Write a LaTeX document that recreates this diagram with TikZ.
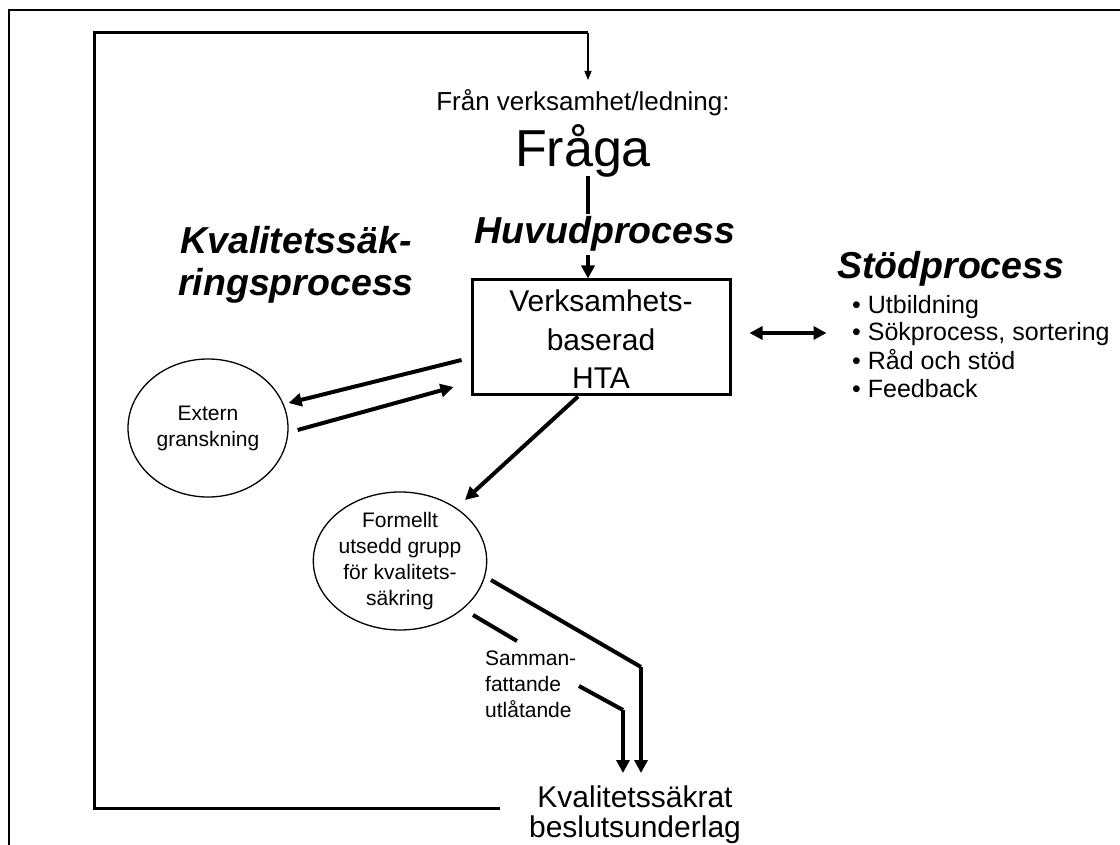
\documentclass[tikz,border=0pt]{standalone}
\usepackage{fontspec}
\setmainfont{Liberation Sans}
\usetikzlibrary{arrows.meta,shapes.geometric}
\begin{document}
\begin{tikzpicture}[x=1pt,y=-1pt,
  frameline/.style={line width=2pt},
  loopline/.style={line width=3pt},
  thinarr/.style={line width=1.4pt,-{Triangle[length=9pt,width=7pt]}},
  conn/.style={line width=4pt},
  arr/.style={line width=4pt,-{Triangle[length=13pt,width=13pt]}},
  dblarr/.style={line width=4pt,{Triangle[length=13pt,width=13pt]}-{Triangle[length=13pt,width=13pt]}},
  oval/.style={draw,ellipse,line width=1.3pt,inner sep=0pt,align=center,font=\fontsize{21}{26}\selectfont},
  head/.style={font=\fontsize{37.5}{42}\selectfont\bfseries\itshape,align=center,inner sep=0pt},
  txt/.style={inner sep=0pt},
  bul/.style={inner sep=0pt,anchor=base west,font=\fontsize{25}{28}\selectfont}
]
\useasboundingbox (0,0) rectangle (1120,845);
\draw[frameline] (9,845) -- (9,10) -- (1120,10);

% texts
\node[txt,anchor=base,font=\fontsize{26}{30}\selectfont] (fran) at (583,111) {Från verksamhet/ledning:};
\node[txt,anchor=base,font=\fontsize{52}{58}\selectfont] (fraga) at (583,167) {Fråga};
\node[draw,line width=3pt,minimum width=258pt,minimum height=114pt,inner sep=0pt,align=center,
      font=\fontsize{30}{38.5}\selectfont] (hta) at (601,337) {\rule{0pt}{26pt}Verksamhets-\\baserad\\HTA};
\node[head,anchor=north] (kvs) at (296,226) {Kvalitetssäk-\\ringsprocess};
\node[head,anchor=base west] (stod) at (837,279) {Stödprocess};
\node[bul] (b1) at (852,313) {• Utbildning};
\node[bul] (b2) at (852,341) {• Sökprocess, sortering};
\node[bul] (b3) at (852,369) {• Råd och stöd};
\node[bul] (b4) at (852,397) {• Feedback};
\node[oval,minimum width=160pt,minimum height=138pt] (ext) at (208,428) {Extern\\granskning};
\node[oval,minimum width=156pt,minimum height=138pt] (form) at (400,561) {Formellt\\utsedd grupp\\för kvalitets-\\säkring};
\node[txt,anchor=north west,align=left,font=\fontsize{21}{26}\selectfont] (samm) at (485,651) {Samman-\\fattande\\utlåtande};
\node[txt,anchor=north,align=center,font=\fontsize{30}{30}\selectfont] (kb) at (635,786) {Kvalitetssäkrat\\beslutsunderlag};

% main flow
\coordinate (fq) at (588,176);
\draw[arr] (fq) -- (fq |- hta.north);
\node[head,anchor=base,fill=white,inner ysep=3pt] (huvud) at (605,244) {Huvudprocess};

% feedback loop
\coordinate (ls) at (500,808);
\coordinate (lt) at (588,33);
\draw[loopline] (ls) -| (94,33) -- (lt);
\draw[thinarr] (lt) -- (lt |- 0,80);

% external review
\draw[arr] ([shift={(-9,23)}]hta.west) -- ([shift={(0,-25)}]ext.east);
\draw[arr] ([shift={(9,2)}]ext.east) -- ([shift={(-17,50)}]hta.west);

% to group
\draw[arr] ([shift={(-23,1)}]hta.south) -- ([shift={(65,-61)}]form.center);

% support
\draw[dblarr] ([shift={(18,-4)}]hta.east) -- ++(77,0);

% outputs
\draw[conn] ([shift={(91,19)}]form.center) -- (641,667) coordinate (ca);
\draw[arr] (ca) -- (ca |- 0,773);
\draw[conn] ([shift={(73,54)}]form.center) -- ([shift={(117,80)}]form.center);
\draw[conn] (579,686) -- (623,710) coordinate (cb);
\draw[arr] (cb) -- (cb |- 0,773);
\end{tikzpicture}
\end{document}
